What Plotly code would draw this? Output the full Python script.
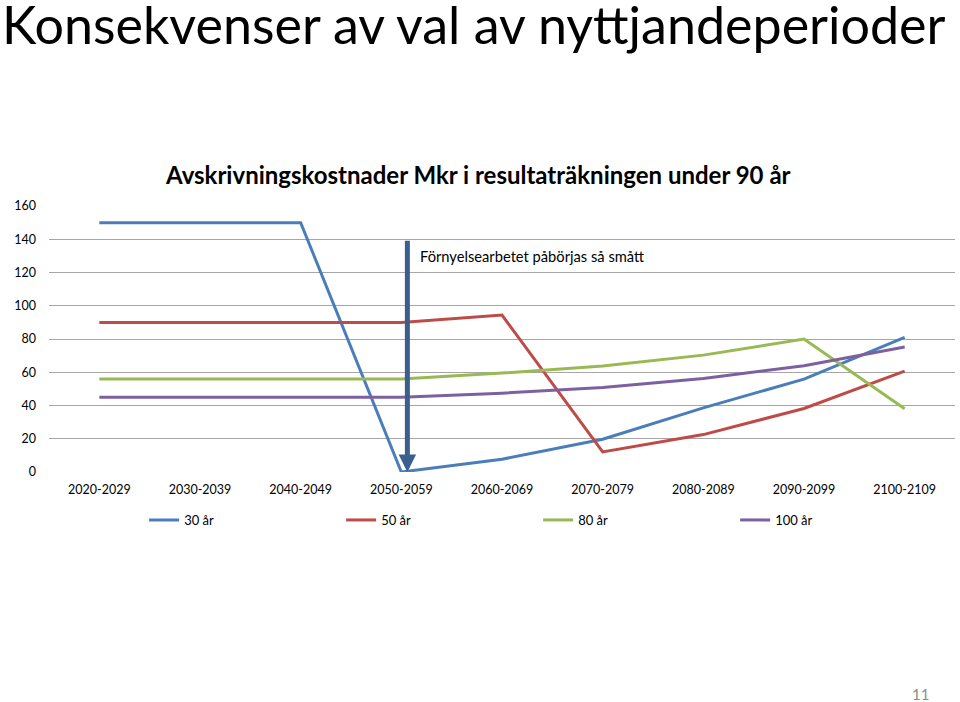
import plotly.graph_objects as go

categories = ["2020-2029", "2030-2039", "2040-2049", "2050-2059", "2060-2069",
              "2070-2079", "2080-2089", "2090-2099", "2100-2109"]
s30 = [150, 150, 150, 0, 7.7, 19.7, 38.6, 55.9, 81.0]
s50 = [90, 90, 90, 90, 94.4, 12.1, 22.5, 38.2, 60.7]
s80 = [56, 56, 56, 56, 59.5, 63.7, 70.3, 80, 38]
s100 = [45, 45, 45, 45, 47.4, 50.9, 56.3, 63.9, 75.2]
series_names = ["30 år", "50 år", "80 år", "100 år"]
colors = ["#4A7EBB", "#BE4B48", "#98B954", "#7D60A0"]

y_ticks = [0, 20, 40, 60, 80, 100, 120, 140, 160]
arrow_x = 3.06
arrow_top = 140
arrow_bottom = 0
note_text = "Förnyelsearbetet påbörjas så smått"
note_x = 3.17
note_y = 130

FONT = "Lato"
W, H = 960, 702
ML, MR, MT, MB = 49, 5, 206, 230
PW, PH = W - ML - MR, H - MT - MB


def px(x):
    return (x - ML) / PW


def py(y):
    return (H - MB - y) / PH


fig = go.Figure()
for name, vals, col in zip(series_names, [s30, s50, s80, s100], colors):
    fig.add_trace(go.Scatter(x=list(range(len(categories))), y=vals, mode="lines",
                             name=name, line=dict(color=col, width=3)))

fig.add_annotation(x=arrow_x, y=arrow_bottom, ax=arrow_x, ay=arrow_top,
                   xref="x", yref="y", axref="x", ayref="y",
                   showarrow=True, arrowhead=2, arrowsize=0.7, arrowwidth=5,
                   arrowcolor="#3A5F8E", text="")
fig.add_annotation(x=note_x, y=note_y, xref="x", yref="y", text=note_text,
                   showarrow=False, xanchor="left", yanchor="middle",
                   font=dict(family=FONT, size=14.7, color="#000000"))

fig.add_annotation(x=px(1), y=py(24), xref="paper", yref="paper", xanchor="left", yanchor="middle",
                   borderpad=0,
                   text="Konsekvenser av val av nyttjandeperioder", showarrow=False,
                   font=dict(family=FONT, size=52.0, color="#000000"))
fig.add_annotation(x=px(478), y=py(175), xref="paper", yref="paper",
                   xanchor="center", yanchor="middle",
                   text="<b>Avskrivningskostnader Mkr i resultaträkningen under 90 år</b>",
                   showarrow=False, font=dict(family=FONT, size=24, color="#000000"))
fig.add_annotation(x=px(920), y=py(694), xref="paper", yref="paper",
                   xanchor="center", yanchor="middle", text="11", showarrow=False,
                   font=dict(family=FONT, size=15, color="#8C8C8C"))

fig.update_layout(
    width=W, height=H,
    margin=dict(l=ML, r=MR, t=MT, b=MB),
    paper_bgcolor="white", plot_bgcolor="white",
    font=dict(family=FONT, size=12, color="#000000"),
    showlegend=True,
    legend=dict(orientation="h", x=0.105, y=py(520), xanchor="left", yanchor="middle",
                entrywidth=152, entrywidthmode="pixels",
                font=dict(family=FONT, size=13), itemwidth=30),
    xaxis=dict(type="linear", range=[-0.5, len(categories) - 0.5],
               tickvals=list(range(len(categories))), ticktext=categories,
               showgrid=False, zeroline=False, showline=False,
               ticks="", ticklabelstandoff=8, tickfont=dict(size=12.5)),
    yaxis=dict(range=[0, 160], tickvals=y_ticks, showgrid=True, gridcolor="#A6A6A6",
               gridwidth=1, zeroline=False, showline=False, ticks="",
               ticklabelstandoff=12, tickfont=dict(size=12.5)),
)

fig.write_html("out.html")
